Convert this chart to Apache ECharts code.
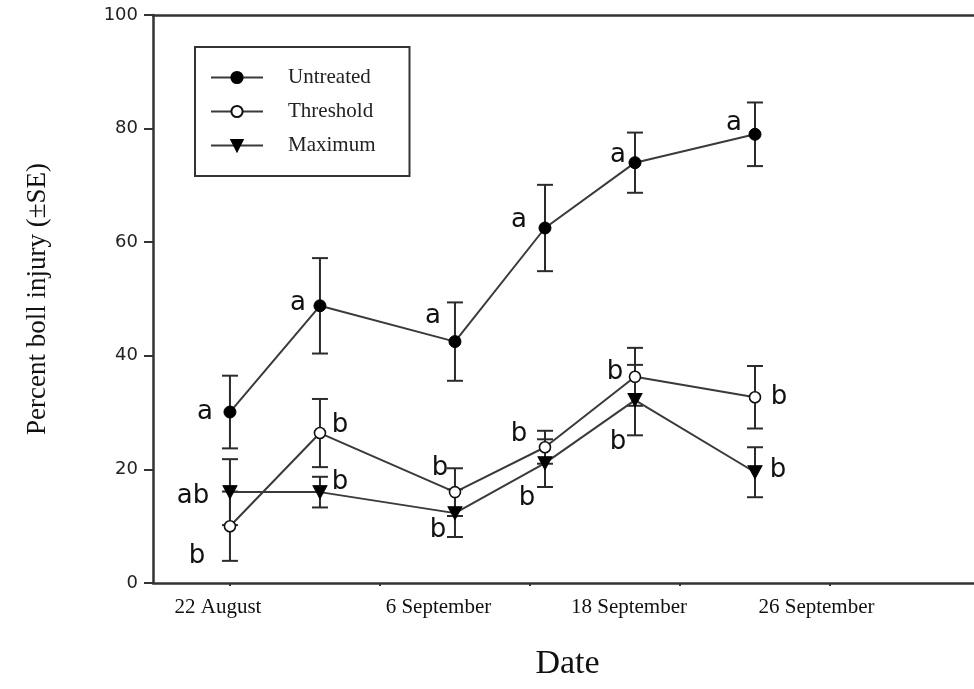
<!DOCTYPE html>
<html>
<head>
<meta charset="utf-8">
<script src="https://cdn.jsdelivr.net/npm/echarts@6/dist/echarts.min.js"></script>
<style>
  html, body { margin: 0; padding: 0; background: #fff; }
  #chart { width: 974px; height: 689px; }
</style>
</head>
<body>
<div id="chart"></div>
<script>
// Sampling days, counted from 22 August
const sampleDays = [0, 6, 15, 21, 27, 35];

// Percent boll injury, mean and standard error per treatment
const untreatedMean = [30.1, 48.8, 42.5, 62.5, 74.0, 79.0];
const untreatedSE   = [6.4, 8.4, 6.9, 7.6, 5.3, 5.6];
const thresholdMean = [10.0, 26.4, 16.0, 23.9, 36.3, 32.7];
const thresholdSE   = [6.1, 6.0, 4.2, 2.9, 5.1, 5.5];
const maximumMean   = [16.0, 16.0, 12.3, 21.1, 32.2, 19.5];
const maximumSE     = [5.8, 2.7, 4.2, 4.2, 6.2, 4.4];

// Mean separation letters
const untreatedLetters = ['a', 'a', 'a', 'a', 'a', 'a'];
const thresholdLetters = ['b', 'b', 'b', 'b', 'b', 'b'];
const maximumLetters   = ['ab', 'b', 'b', 'b', 'b', 'b'];

// Axis ticks and labels
const dateTickDays  = [0, 10, 20, 30, 40];
const dateLabels    = ['22 August', '6 September', '18 September', '26 September'];
const dateLabelDays = [-0.8, 13.9, 26.6, 39.1];
const yTickValues   = [0, 20, 40, 60, 80, 100];

// Where each letter sits relative to its marker (px)
const untreatedLetterOffset = [[-25, 0], [-22, -3], [-22, -25], [-26, -8], [-17, -7], [-21, -11]];
const thresholdLetterOffset = [[-33, 30], [20, -8], [-15, -24], [-26, -13], [-20, -5], [24, 0]];
const maximumLetterOffset   = [[-37, 4], [20, -10], [-17, 17], [-18, 35], [-17, 42], [23, -2]];

const INK = '#2b2b2b';
const SERIF = 'Liberation Serif';
const SANS = 'DejaVu Sans';

function pointData(means, letters, offsets) {
  return means.map((m, i) => ({
    value: [sampleDays[i], m],
    label: {
      show: true,
      formatter: letters[i],
      position: 'inside',
      offset: offsets[i],
      align: 'center',
      verticalAlign: 'middle',
      fontFamily: SANS,
      fontSize: 26,
      color: '#111'
    }
  }));
}

function errorData(means, ses) {
  return means.map((m, i) => [sampleDays[i], m, ses[i]]);
}

function renderErrorBar(params, api) {
  const x = api.value(0), m = api.value(1), s = api.value(2);
  const top = api.coord([x, m + s]);
  const bot = api.coord([x, m - s]);
  const hw = 8;
  const st = { stroke: INK, lineWidth: 2 };
  return {
    type: 'group',
    children: [
      { type: 'line', shape: { x1: top[0], y1: top[1], x2: bot[0], y2: bot[1] }, style: st },
      { type: 'line', shape: { x1: top[0] - hw, y1: top[1], x2: top[0] + hw, y2: top[1] }, style: st },
      { type: 'line', shape: { x1: bot[0] - hw, y1: bot[1], x2: bot[0] + hw, y2: bot[1] }, style: st }
    ]
  };
}

const downTriangle = 'path://M0,0L10,0L5,9Z';

const chart = echarts.init(document.getElementById('chart'), null, { renderer: 'canvas' });

const xMin = -5.13, xMax = 49.6;

chart.setOption({
  animation: false,
  backgroundColor: '#fff',
  grid: { left: 153, right: 0, top: 15, bottom: 106 },
  legend: {
    data: ['Untreated', 'Threshold', 'Maximum'],
    orient: 'vertical',
    left: 195,
    top: 47,
    itemWidth: 52,
    itemHeight: 14,
    itemGap: 13,
    padding: [20, 34, 20, 15],
    borderColor: '#333',
    borderWidth: 2,
    textStyle: { fontFamily: SERIF, fontSize: 21, color: '#222', padding: [0, 0, 0, 20] }
  },
  xAxis: [
    {
      type: 'value',
      min: xMin,
      max: xMax,
      position: 'bottom',
      name: 'Date',
      nameLocation: 'middle',
      nameGap: 64,
      nameTextStyle: { fontFamily: SERIF, fontSize: 34, color: '#111', padding: [0, 0, 0, 8] },
      axisLine: { show: true, onZero: false, lineStyle: { color: '#333', width: 2.5 } },
      axisTick: { show: true, length: 3, customValues: dateTickDays, lineStyle: { color: '#333', width: 2 } },
      axisLabel: {
        show: true,
        customValues: dateLabelDays,
        margin: 14,
        fontFamily: SERIF,
        fontSize: 21,
        color: '#111',
        formatter: v => {
          const i = dateLabelDays.findIndex(d => Math.abs(d - v) < 1e-6);
          return i >= 0 ? dateLabels[i] : '';
        }
      },
      splitLine: { show: false }
    },
    {
      type: 'value',
      min: xMin,
      max: xMax,
      position: 'top',
      axisLine: { show: true, onZero: false, lineStyle: { color: '#333', width: 2.5 } },
      axisTick: { show: false },
      axisLabel: { show: false },
      splitLine: { show: false }
    }
  ],
  yAxis: {
    type: 'value',
    min: 0,
    max: 100,
    interval: 20,
    name: 'Percent boll injury (±SE)',
    nameLocation: 'middle',
    nameGap: 102,
    nameTextStyle: { fontFamily: SERIF, fontSize: 27, color: '#111' },
    axisLine: { show: true, onZero: false, lineStyle: { color: '#333', width: 2.5 } },
    axisTick: { show: true, inside: false, length: 9, lineStyle: { color: '#333', width: 2 } },
    axisLabel: { margin: 15, fontFamily: SANS, fontSize: 18, color: '#222' },
    splitLine: { show: false }
  },
  series: [
    { type: 'custom', name: 'se-untreated', renderItem: renderErrorBar, data: errorData(untreatedMean, untreatedSE), encode: { x: 0, y: 1 }, z: 1 },
    { type: 'custom', name: 'se-threshold', renderItem: renderErrorBar, data: errorData(thresholdMean, thresholdSE), encode: { x: 0, y: 1 }, z: 1 },
    { type: 'custom', name: 'se-maximum', renderItem: renderErrorBar, data: errorData(maximumMean, maximumSE), encode: { x: 0, y: 1 }, z: 1 },
    {
      type: 'line',
      name: 'Untreated',
      data: pointData(untreatedMean, untreatedLetters, untreatedLetterOffset),
      symbol: 'circle',
      symbolSize: 12,
      showAllSymbol: true,
      lineStyle: { color: '#3a3a3a', width: 2 },
      itemStyle: { color: '#000', borderColor: '#000', borderWidth: 1 },
      z: 3
    },
    {
      type: 'line',
      name: 'Threshold',
      data: pointData(thresholdMean, thresholdLetters, thresholdLetterOffset),
      symbol: 'circle',
      symbolSize: 11,
      showAllSymbol: true,
      lineStyle: { color: '#3a3a3a', width: 2 },
      itemStyle: { color: '#fff', borderColor: '#111', borderWidth: 1.6 },
      z: 3
    },
    {
      type: 'line',
      name: 'Maximum',
      data: pointData(maximumMean, maximumLetters, maximumLetterOffset),
      symbol: downTriangle,
      symbolSize: [14, 13],
      showAllSymbol: true,
      lineStyle: { color: '#3a3a3a', width: 2 },
      itemStyle: { color: '#000', borderColor: '#000', borderWidth: 1 },
      z: 3
    }
  ]
});
</script>
</body>
</html>
